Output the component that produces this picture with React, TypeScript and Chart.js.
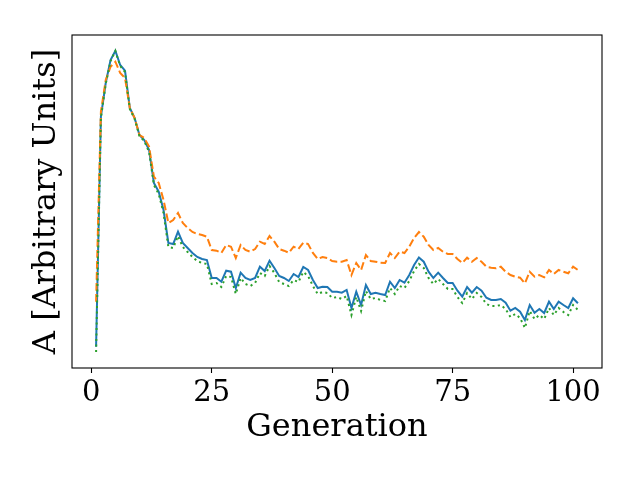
import { useEffect, useRef } from "react"
import { Chart, registerables } from "chart.js"

Chart.register(...registerables)

// values (arbitrary units)
const blueValues = [
  21.3, 251.3, 285, 308, 317.3, 303, 297.3, 260, 250, 233,
  228, 218, 185, 176.3, 158, 125, 124, 136.3, 125, 120,
  115, 111, 109, 108, 90, 90, 86.3, 97.3, 96.3, 80,
  95.3, 90, 88, 90, 101.3, 97, 107.3, 100, 92, 90,
  87, 94, 91, 101, 98, 88, 80, 81.3, 81, 76.3,
  76.3, 75.3, 78, 60, 76.3, 63, 83, 74, 75.3, 74,
  73, 86.3, 80, 88, 85.3, 93, 103, 110.5, 106.3, 96.3,
  90, 95.3, 90, 85, 85, 77.3, 71.3, 81, 75.3, 81,
  77.3, 70.3, 68, 68, 69, 65.3, 57.3, 60, 56.3, 48,
  63, 55.3, 59, 55, 66.3, 59, 66.3, 63, 60, 69.7, 64.7,
]

const orangeValues = [
  66.3, 256.3, 288, 301.3, 306.3, 295, 290, 260, 250, 233,
  230, 221.3, 191.3, 185, 168, 145, 148, 155, 145, 140,
  136, 134, 133, 131.3, 118, 117.3, 115, 123, 121.3, 110,
  123, 118, 116.3, 119, 126.3, 124, 132, 126.3, 119, 117.3,
  115.3, 121.3, 119, 125.3, 124, 115, 109, 111, 110, 107,
  106.3, 106.3, 108, 93, 105, 98, 113, 107, 106.3, 105.3,
  105, 115, 110, 116.3, 115, 121.3, 130, 136, 131.3, 123,
  118, 120, 116.3, 114, 114, 109, 105, 110.3, 106.3, 110,
  106.3, 101.3, 100.3, 99.7, 101.3, 96.3, 93, 91.3, 90.3, 84.7,
  96.3, 91.3, 93, 90.7, 98, 94, 98, 96.3, 94.7, 101.3, 98,
]

const greenValues = [
  16, 250, 284, 307, 317, 302, 296, 259, 249, 232,
  227, 216, 183, 174, 155, 121, 120, 132, 121, 116,
  111, 107, 105, 104, 84, 85, 81, 92, 91, 74,
  90, 84, 82, 85, 95, 92, 102, 95, 86, 84,
  82, 88, 86, 96, 92, 82, 74, 76, 75, 70,
  71, 69, 72, 53, 71, 57, 77, 69, 70, 68,
  67, 80, 74, 82, 80, 87, 97, 104, 100, 90,
  84, 89, 84, 79, 79, 71, 65, 75, 69, 75,
  71, 64, 62, 62, 63, 59, 51, 54, 50, 40,
  57, 49, 53, 49, 60, 53, 60, 56, 53, 63, 58,
]

const generations = blueValues.map((_, i) => i + 1)
const xTicks = [0, 25, 50, 75, 100]

const serif = "'DejaVu Serif', serif"

const toPoints = (values: number[]) => values.map((v, i) => ({ x: generations[i], y: v }))

// matplotlib-style box around the axes
const frame = {
  id: "frame",
  afterDraw(chart: Chart) {
    const { ctx, chartArea } = chart
    ctx.save()
    ctx.strokeStyle = "#000"
    ctx.lineWidth = 1.1
    ctx.strokeRect(chartArea.left, chartArea.top, chartArea.right - chartArea.left, chartArea.bottom - chartArea.top)
    ctx.restore()
  },
}

export default function App() {
  const chartRef = useRef<HTMLCanvasElement>(null)
  const chartInstance = useRef<Chart | null>(null)

  useEffect(() => {
    if (!chartRef.current) return
    const ctx = chartRef.current.getContext("2d")
    if (!ctx) return

    if (chartInstance.current) {
      chartInstance.current.destroy()
    }

    chartInstance.current = new Chart(ctx, {
      type: "line",
      data: {
        datasets: [
          {
            label: "blue",
            data: toPoints(blueValues),
            borderColor: "#1f77b4",
            borderWidth: 2,
            pointRadius: 0,
            tension: 0,
            order: 3,
          },
          {
            label: "orange",
            data: toPoints(orangeValues),
            borderColor: "#ff7f0e",
            borderWidth: 2,
            borderDash: [7.7, 3.3],
            pointRadius: 0,
            tension: 0,
            order: 2,
          },
          {
            label: "green",
            data: toPoints(greenValues),
            borderColor: "#2ca02c",
            borderWidth: 2,
            borderDash: [2.1, 3.4],
            pointRadius: 0,
            tension: 0,
            order: 1,
          },
        ],
      },
      options: {
        animation: false,
        responsive: true,
        maintainAspectRatio: false,
        layout: { padding: { top: 35, right: 38, left: 0, bottom: 0 } },
        plugins: {
          legend: { display: false },
          tooltip: { enabled: false },
        },
        scales: {
          x: {
            type: "linear",
            min: -4,
            max: 106,
            afterBuildTicks: (scale) => {
              scale.ticks = xTicks.map((v) => ({ value: v }))
            },
            afterFit: (scale) => {
              scale.height = 112
            },
            grid: {
              drawOnChartArea: false,
              drawTicks: true,
              tickLength: 5,
              tickWidth: 1.1,
              tickColor: "#000",
            },
            border: { display: false },
            ticks: {
              color: "#000",
              padding: 3,
              maxRotation: 0,
              font: { family: serif, size: 29 },
            },
            title: {
              display: true,
              text: "Generation",
              color: "#000",
              font: { family: serif, size: 32 },
              padding: { top: 0, bottom: 33.6 },
            },
          },
          y: {
            type: "linear",
            min: 0,
            max: 333,
            afterFit: (scale) => {
              scale.width = 72
            },
            grid: { display: false },
            border: { display: false },
            ticks: { display: false },
            title: {
              display: true,
              text: "A [Arbitrary Units]",
              color: "#000",
              font: { family: serif, size: 32 },
              padding: { top: 27, bottom: 0 },
            },
          },
        },
      },
      plugins: [frame],
    })

    return () => {
      if (chartInstance.current) {
        chartInstance.current.destroy()
        chartInstance.current = null
      }
    }
  }, [])

  return (
    <div style={{ position: "absolute", left: 0, top: 0, width: 640, height: 480, background: "#fff" }}>
      <canvas ref={chartRef} />
    </div>
  )
}
